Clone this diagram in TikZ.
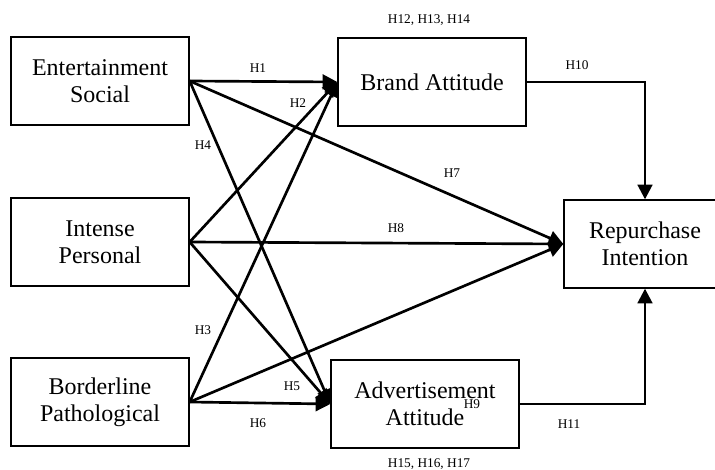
\documentclass[tikz,border=0pt]{standalone}
\usepackage{fontspec}
\setmainfont{Liberation Serif}
\usetikzlibrary{arrows.meta}

\begin{document}
\begin{tikzpicture}[x=0.75pt, y=-0.75pt, >={Triangle[length=11pt,width=11pt]},
    caja/.style={draw, line width=1pt, align=center, inner sep=0pt,
        minimum height=66pt, font=\fontsize{18}{20.5}\selectfont},
    flecha/.style={->, line width=2pt},
    hip/.style={inner sep=1pt, font=\fontsize{10}{12}\selectfont}]
    \useasboundingbox (0,0) rectangle (715,470);

    \node[caja, minimum width=133.5pt] (ES) at (100,81) {Entertainment\\Social};
    \node[caja, minimum width=133.5pt] (IP) at (100,242) {Intense\\Personal};
    \node[caja, minimum width=133.5pt] (BP) at (100,402) {Borderline\\Pathological};
    \node[caja, minimum width=141pt] (BA) at (432,82) {Brand Attitude};
    \node[caja, minimum width=141pt] (AA) at (425,404) {Advertisement\\Attitude};
    \node[caja, minimum width=121.5pt] (RI) at (645,244) {Repurchase\\Intention};

    \draw[flecha] (ES.east) -- (BA.west);
    \draw[flecha] (ES.east) -- (AA.west);
    \draw[flecha] (ES.east) -- (RI.west);
    \draw[flecha] (IP.east) -- (BA.west);
    \draw[flecha] (IP.east) -- (RI.west);
    \draw[flecha] (IP.east) -- (AA.west);
    \draw[flecha] (BP.east) -- (BA.west);
    \draw[flecha] (BP.east) -- (AA.west);
    \draw[flecha] (BP.east) -- (RI.west);
    \draw[flecha] (BA.east) -| (RI.north);
    \draw[flecha] (AA.east) -| (RI.south);

    \node[hip] (h1) at (258,68) {H1};
    \node[hip] (h2) at (298,103) {H2};
    \node[hip] (h3) at (203,330) {H3};
    \node[hip] (h4) at (203,145) {H4};
    \node[hip] (h5) at (292,386) {H5};
    \node[hip] (h6) at (258,423) {H6};
    \node[hip] (h7) at (452,173) {H7};
    \node[hip] (h8) at (396,228) {H8};
    \node[hip] (h9) at (472,404) {H9};
    \node[hip] (h10) at (577,65) {H10};
    \node[hip] (h11) at (569,424) {H11};
    \node[hip] (hba) at (429,20) {H12, H13, H14};
    \node[hip] (haa) at (429,464) {H15, H16, H17};
\end{tikzpicture}
\end{document}
